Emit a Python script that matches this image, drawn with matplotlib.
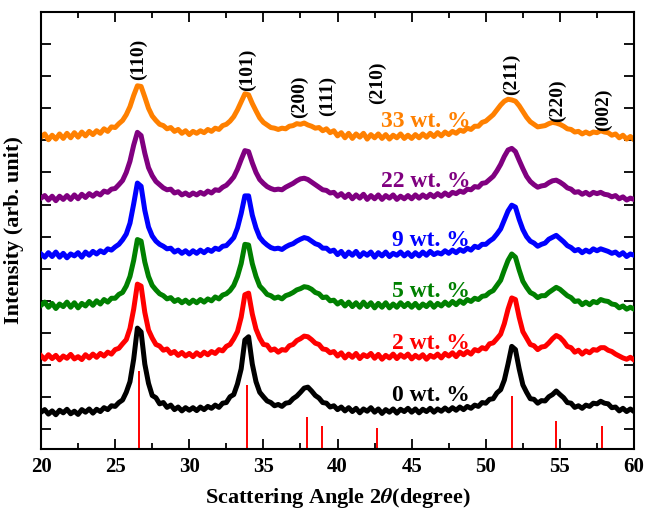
import numpy as np
import matplotlib
matplotlib.use('Agg')
import matplotlib.pyplot as plt

plt.rcParams['font.family'] = ['Liberation Serif', 'DejaVu Serif']
plt.rcParams['font.weight'] = 'bold'
plt.rcParams['mathtext.fontset'] = 'stix'

# 2theta grid, 0.25 degree steps
two_theta = np.arange(161) * 0.25 + 20

# intensity above each pattern's own baseline (arb. counts)
i_0 = [0, 8, -6, 4, -8, 6, -2, 9, -5, 3, -7, 8, 0, 10, -3, 9, 2, 14, 8, 20,
       18, 30, 38, 62, 95, 165, 262, 250, 150, 90, 52, 45, 26, 30, 15, 22, 8, 16, 4, 14,
       6, 14, 5, 16, 8, 18, 12, 22, 15, 28, 30, 48, 55, 88, 135, 225, 235, 150, 95, 62,
       48, 35, 30, 20, 24, 18, 28, 30, 42, 50, 62, 75, 78, 66, 52, 44, 30, 28, 16, 20,
       8, 16, 4, 14, 2, 12, -2, 10, 3, 14, 0, 10, -4, 8, 0, 10, -3, 9, 2, 12,
       0, 10, -2, 9, 2, 12, 0, 10, 3, 13, 4, 14, 6, 16, 8, 18, 12, 22, 18, 30,
       28, 40, 42, 60, 70, 100, 150, 205, 195, 135, 85, 62, 42, 40, 28, 36, 35, 48, 55, 66,
       55, 45, 30, 28, 15, 20, 12, 22, 18, 28, 26, 34, 28, 26, 14, 16, 4, 12, 2, 10,
       2]
i_2 = [5, -6, 8, -4, 6, -8, 4, -3, 9, -5, 2, -7, 8, -2, 10, 0, 12, 4, 16, 10,
       24, 28, 42, 55, 90, 150, 228, 222, 140, 85, 60, 40, 35, 22, 26, 12, 18, 6, 15, 4,
       12, 2, 14, 5, 16, 8, 18, 12, 24, 20, 34, 40, 58, 80, 125, 195, 200, 135, 88, 60,
       40, 38, 22, 26, 16, 24, 22, 36, 40, 52, 58, 66, 64, 55, 44, 40, 26, 24, 14, 18,
       4, 14, -2, 10, 0, 12, -4, 8, 2, 12, -3, 9, -6, 6, -2, 10, -4, 8, 0, 10,
       -5, 6, -2, 8, -6, 6, 0, 10, -2, 12, 4, 14, 2, 16, 8, 18, 10, 24, 20, 30,
       26, 42, 45, 58, 72, 105, 150, 185, 180, 125, 80, 60, 40, 36, 24, 32, 34, 45, 58, 68,
       62, 50, 34, 30, 16, 22, 10, 20, 14, 24, 22, 30, 30, 22, 18, 10, 4, -2, -6, 0,
       -8]
i_5 = [0, 10, -6, 6, -10, 4, -4, 10, -6, 8, -8, 6, -2, 12, 0, 14, 4, 18, 10, 22,
       22, 34, 40, 60, 90, 140, 205, 200, 135, 90, 62, 48, 36, 30, 20, 24, 12, 18, 8, 16,
       6, 16, 8, 18, 10, 20, 14, 26, 20, 32, 36, 46, 62, 90, 130, 190, 188, 130, 90, 60,
       48, 34, 30, 22, 26, 20, 30, 34, 40, 48, 52, 58, 56, 50, 40, 36, 24, 26, 14, 16,
       4, 12, -2, 10, -4, 8, -6, 10, -4, 8, -8, 6, -6, 8, -8, 4, -6, 8, -4, 6,
       -6, 6, -8, 4, -4, 8, -6, 6, -2, 10, 0, 12, 2, 14, 6, 18, 12, 22, 18, 28,
       30, 40, 46, 62, 78, 110, 140, 160, 150, 110, 75, 56, 40, 34, 24, 30, 30, 40, 48, 56,
       50, 40, 30, 24, 12, 14, 2, 10, 2, 12, 8, 18, 14, 12, 4, 2, -8, -2, -12, -6,
       -12]
i_9 = [4, -6, 8, -4, 10, -6, 6, -8, 4, -2, 8, -6, 10, 0, 12, 4, 14, 8, 20, 16,
       26, 34, 48, 66, 100, 160, 225, 215, 140, 88, 60, 44, 34, 28, 20, 22, 10, 16, 6, 14,
       4, 14, 6, 16, 8, 18, 12, 22, 18, 28, 30, 42, 55, 85, 130, 185, 185, 125, 85, 56,
       42, 32, 24, 20, 22, 18, 26, 32, 36, 44, 50, 55, 52, 44, 36, 32, 22, 22, 12, 16,
       2, 12, -4, 10, 0, 12, -4, 8, 0, 10, -6, 8, -2, 10, -4, 6, 0, 10, -2, 8,
       -4, 8, -2, 10, 0, 12, 2, 8, 4, 14, 6, 16, 8, 18, 12, 22, 16, 28, 24, 34,
       34, 44, 52, 66, 82, 110, 138, 156, 150, 112, 80, 58, 44, 38, 28, 34, 38, 50, 56, 62,
       52, 42, 30, 24, 14, 18, 8, 16, 10, 20, 14, 20, 16, 12, 6, 10, 0, 8, -4, 4,
       0]
i_22 = [0, 8, -6, 6, -8, 6, -4, 8, -4, 10, -2, 12, 2, 14, 6, 16, 10, 22, 18, 28,
        30, 42, 55, 80, 115, 165, 205, 195, 140, 95, 70, 52, 42, 32, 26, 28, 16, 20, 10, 16,
        8, 16, 10, 18, 12, 22, 16, 26, 24, 34, 40, 52, 66, 90, 120, 148, 145, 110, 80, 58,
        46, 36, 30, 26, 28, 26, 34, 40, 46, 54, 60, 62, 58, 50, 42, 34, 26, 24, 16, 18,
        6, 14, 2, 12, -2, 10, 0, 12, -4, 8, -2, 10, -4, 8, 0, 10, -4, 6, -2, 8,
        -2, 10, 0, 10, 2, 12, 4, 14, 6, 16, 8, 18, 14, 22, 18, 28, 26, 36, 34, 46,
        48, 58, 68, 85, 105, 130, 150, 155, 145, 118, 92, 68, 52, 42, 34, 38, 40, 48, 54, 56,
        50, 42, 32, 28, 18, 20, 12, 18, 10, 18, 14, 18, 12, 10, 4, 8, -2, 4, -6, 0,
        -4]
i_33 = [0, 10, -8, 6, -6, 10, -4, 12, -2, 14, 0, 16, 4, 18, 8, 20, 12, 26, 18, 32,
        30, 42, 52, 70, 95, 130, 160, 158, 125, 90, 66, 52, 40, 36, 26, 30, 18, 24, 12, 20,
        8, 18, 12, 20, 14, 24, 18, 28, 24, 36, 40, 50, 64, 85, 110, 135, 132, 105, 82, 60,
        46, 38, 30, 28, 24, 28, 26, 34, 36, 42, 40, 44, 38, 34, 28, 30, 20, 26, 14, 20,
        4, 14, -2, 12, -4, 10, 0, 12, -6, 8, -2, 10, -4, 8, -6, 6, -2, 10, -4, 6,
        -4, 8, -2, 10, 0, 12, 2, 14, 4, 16, 8, 18, 12, 22, 18, 28, 24, 34, 34, 46,
        50, 60, 70, 85, 100, 112, 118, 116, 112, 98, 80, 62, 48, 40, 32, 34, 36, 42, 46, 44,
        40, 34, 26, 24, 16, 18, 10, 16, 10, 16, 14, 20, 16, 14, 6, 10, -2, 6, -6, 2,
        -8]

labels = ['0 wt. %', '2 wt. %', '5 wt. %', '9 wt. %', '22 wt. %', '33 wt. %']
offsets = [53, 224, 386, 542, 720, 910]
colors = ['black', '#ff0000', '#008000', '#0000ff', '#800080', '#ff8000']
label_y = [106, 268, 430, 589, 773, 959]
patterns = [i_0, i_2, i_5, i_9, i_22, i_33]

# reference (SnO2 rutile) peaks
ref_pos = [26.61, 33.89, 37.95, 38.97, 42.64, 51.78, 54.76, 57.82]
ref_h = [243, 199, 100, 72, 65, 165, 87, 72]
hkl = ['(110)', '(101)', '(200)', '(111)', '(210)', '(211)', '(220)', '(002)']
hkl_x = [26.6, 33.9, 37.46, 39.35, 42.72, 51.76, 54.86, 57.96]
hkl_y = [1152, 1121, 1037, 1037, 1081, 1106, 1025, 994]

fig = plt.figure(figsize=(6.47, 5.15), dpi=100)
ax = fig.add_axes([0.0634, 0.128, 0.9166, 0.8487])
ybot = -62

for k in range(5, -1, -1):
    y = np.array(patterns[k]) + offsets[k]
    ax.plot(two_theta, y, color=colors[k], lw=3.6, zorder=2 + (5 - k))
    ax.text(48.95, label_y[k], labels[k], color=colors[k], fontsize=17,
            fontweight='bold', ha='right', va='center', zorder=10)

ax.vlines(ref_pos, ybot, ybot + np.array(ref_h), color='#ff0000', lw=1.4, zorder=1)
for xx, yy, t in zip(hkl_x, hkl_y, hkl):
    ax.text(xx, yy, t, rotation=90, ha='center', va='center', fontsize=14,
            fontweight='bold')

ax.set_xlim(20, 60)
ax.set_ylim(ybot, 1300)
ax.set_xticks(np.arange(20, 61, 5))
ax.set_xticks(np.arange(22.5, 60, 5), minor=True)
ax.set_yticks(np.arange(0, 1300, 100))
ax.set_yticklabels([])
ax.tick_params(which='both', direction='in', top=True, right=True, width=1.3)
ax.tick_params(which='major', length=7, labelsize=15, pad=6)
ax.tick_params(which='minor', length=4)
for lab in ax.get_xticklabels():
    lab.set_fontweight('bold')
for s in ax.spines.values():
    s.set_linewidth(1.5)

ax.set_xlabel(r'Scattering Angle 2$\theta$(degree)', fontsize=16, fontweight='bold', labelpad=6)
ax.set_ylabel('Intensity (arb. unit)', fontsize=16, fontweight='bold', labelpad=6)

fig.savefig('out.png', dpi=100)
